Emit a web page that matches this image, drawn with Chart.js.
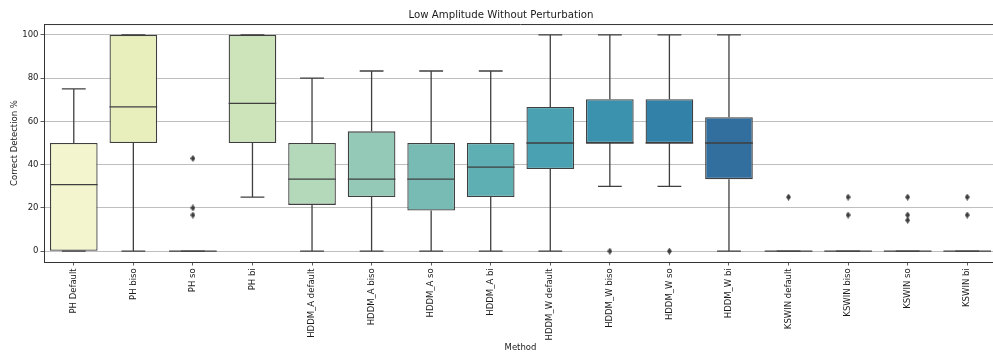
<!DOCTYPE html>
<html>
<head>
<meta charset="utf-8">
<script src="https://cdn.jsdelivr.net/npm/chart.js@4.4.0/dist/chart.umd.min.js"></script>
<style>
html, body { margin: 0; padding: 0; background: #fff; overflow: hidden; }
#wrap { width: 1002px; height: 354px; }
</style>
</head>
<body>
<div id="wrap"><canvas id="boxCanvas" width="1002" height="354"></canvas></div>
<script>
// data
const methods = ['PH Default', 'PH biso', 'PH so', 'PH bi',
                 'HDDM_A default', 'HDDM_A biso', 'HDDM_A so', 'HDDM_A bi',
                 'HDDM_W default', 'HDDM_W biso', 'HDDM_W so', 'HDDM_W bi',
                 'KSWIN default', 'KSWIN biso', 'KSWIN so', 'KSWIN bi'];
const q1 =          [0,    50,   0, 50,   21.4, 25,   18.75, 25,   38,   50,   50,   33.3, 0, 0, 0, 0];
const medians =     [30.8, 66.7, 0, 68.3, 33.3, 33.3, 33.3,  38.9, 50,   50,   50,   50,   0, 0, 0, 0];
const q3 =          [50,   100,  0, 100,  50,   55.4, 50,    50,   66.7, 70.2, 70.2, 61.9, 0, 0, 0, 0];
const whiskerLow =  [0,    0,    0, 25,   0,    0,    0,     0,    0,    30,   30,   0,    0, 0, 0, 0];
const whiskerHigh = [75,   100,  0, 100,  80,   83.3, 83.3,  83.3, 100,  100,  100,  100,  0, 0, 0, 0];
const outlierMethods = ['PH so', 'PH so', 'PH so', 'HDDM_W biso', 'HDDM_W so',
                        'KSWIN default', 'KSWIN biso', 'KSWIN biso',
                        'KSWIN so', 'KSWIN so', 'KSWIN so', 'KSWIN bi', 'KSWIN bi'];
const outlierValues = [42.9, 20, 16.7, 0, 0, 25, 25, 16.7, 25, 16.7, 14.3, 25, 16.7];
const yTicks = [0, 20, 40, 60, 80, 100];

// YlGnBu, desaturated like seaborn does
const boxColors = ['#f2f5cd', '#e8efbc', '#dae9ba', '#cde4bb', '#b4d9ba', '#95c9b7',
                   '#78bbb5', '#5eafb4', '#4aa1b2', '#3b92ae', '#3281a8', '#326e9e',
                   '#335c96', '#334c8d', '#313d83', '#222f68'];

const edgeColor = '#3f3f3f';
const textColor = '#1a1a1a';
const fontFamily = 'DejaVu Sans';

// thin diamond marker, like matplotlib's 'd'
function thinDiamond() {
    const c = document.createElement('canvas');
    c.width = 5;
    c.height = 7;
    const g = c.getContext('2d');
    g.fillStyle = edgeColor;
    g.beginPath();
    g.moveTo(2.5, 0);
    g.lineTo(5, 3.5);
    g.lineTo(2.5, 7);
    g.lineTo(0, 3.5);
    g.closePath();
    g.fill();
    return c;
}

// whiskers, caps and medians on top of the floating bars
const whiskerPlugin = {
    id: 'whiskers',
    afterDatasetsDraw(chart) {
        const ctx = chart.ctx;
        const xs = chart.scales.x;
        const ys = chart.scales.y;
        const bars = chart.getDatasetMeta(0).data;
        ctx.save();
        ctx.strokeStyle = edgeColor;
        ctx.lineWidth = 1.3;
        for (let i = 0; i < methods.length; i++) {
            const x = xs.getPixelForValue(i);
            const w = bars[i].width;
            const yq1 = ys.getPixelForValue(q1[i]);
            const yq3 = ys.getPixelForValue(q3[i]);
            const ylo = ys.getPixelForValue(whiskerLow[i]);
            const yhi = ys.getPixelForValue(whiskerHigh[i]);
            const ymed = ys.getPixelForValue(medians[i]);
            ctx.beginPath();
            ctx.moveTo(x, yq1); ctx.lineTo(x, ylo);
            ctx.moveTo(x, yq3); ctx.lineTo(x, yhi);
            ctx.moveTo(x - w / 4, ylo); ctx.lineTo(x + w / 4, ylo);
            ctx.moveTo(x - w / 4, yhi); ctx.lineTo(x + w / 4, yhi);
            ctx.stroke();
            ctx.beginPath();
            ctx.moveTo(x - w / 2, ymed); ctx.lineTo(x + w / 2, ymed);
            ctx.stroke();
        }
        ctx.restore();
    },
    afterDraw(chart) {
        // top spine
        const a = chart.chartArea;
        const ctx = chart.ctx;
        ctx.save();
        ctx.strokeStyle = '#333';
        ctx.lineWidth = 1;
        ctx.beginPath();
        ctx.moveTo(a.left, a.top + 0.5);
        ctx.lineTo(a.right, a.top + 0.5);
        ctx.stroke();
        ctx.restore();
    }
};

const ctx = document.getElementById('boxCanvas').getContext('2d');
new Chart(ctx, {
    type: 'bar',
    data: {
        labels: methods,
        datasets: [
            {
                type: 'bar',
                data: methods.map((m, i) => [q1[i], q3[i]]),
                backgroundColor: boxColors,
                borderColor: edgeColor,
                borderWidth: 1.3,
                borderSkipped: false,
                barPercentage: 0.8,
                categoryPercentage: 1.0
            },
            {
                type: 'scatter',
                data: outlierMethods.map((m, i) => ({ x: m, y: outlierValues[i] })),
                pointStyle: thinDiamond(),
                pointRadius: 3,
                xAxisID: 'x',
                yAxisID: 'y'
            }
        ]
    },
    options: {
        responsive: false,
        animation: false,
        devicePixelRatio: 1,
        layout: { padding: 0 },
        plugins: {
            legend: { display: false },
            tooltip: { enabled: false },
            title: {
                display: true,
                text: 'Low Amplitude Without Perturbation',
                color: textColor,
                font: { family: fontFamily, size: 10.2, weight: 'normal', lineHeight: 1.2 },
                padding: { top: 8.9, bottom: 2.9 }
            }
        },
        scales: {
            x: {
                type: 'category',
                offset: true,
                grid: { display: true, drawOnChartArea: false, offset: false,
                        tickLength: 3.5, tickColor: '#333', tickWidth: 0.8 },
                border: { display: true, color: '#333', width: 1 },
                ticks: { maxRotation: 90, minRotation: 90, autoSkip: false, padding: 2.8,
                         color: textColor, font: { family: fontFamily, size: 8.5 } },
                title: { display: true, text: 'Method', color: textColor,
                         font: { family: fontFamily, size: 8.5, lineHeight: 1.2 },
                         padding: { top: 0, bottom: 0.9 } },
                afterFit(s) { s.height = 92; }
            },
            y: {
                min: -5,
                max: 105,
                z: 1,
                afterBuildTicks(s) { s.ticks = yTicks.map(v => ({ value: v })); },
                grid: { color: '#b8b8b8', lineWidth: 0.9, tickLength: 3.5,
                        tickColor: '#333', tickWidth: 0.8 },
                border: { display: true, color: '#333', width: 1 },
                ticks: { padding: 2, color: textColor, font: { family: fontFamily, size: 8.5 } },
                title: { display: true, text: 'Correct Detection %', color: textColor,
                         font: { family: fontFamily, size: 8.5, lineHeight: 1.2 },
                         padding: { top: 9.2, bottom: 0 } },
                afterFit(s) { s.width = 44; }
            }
        }
    },
    plugins: [whiskerPlugin]
});
</script>
</body>
</html>
